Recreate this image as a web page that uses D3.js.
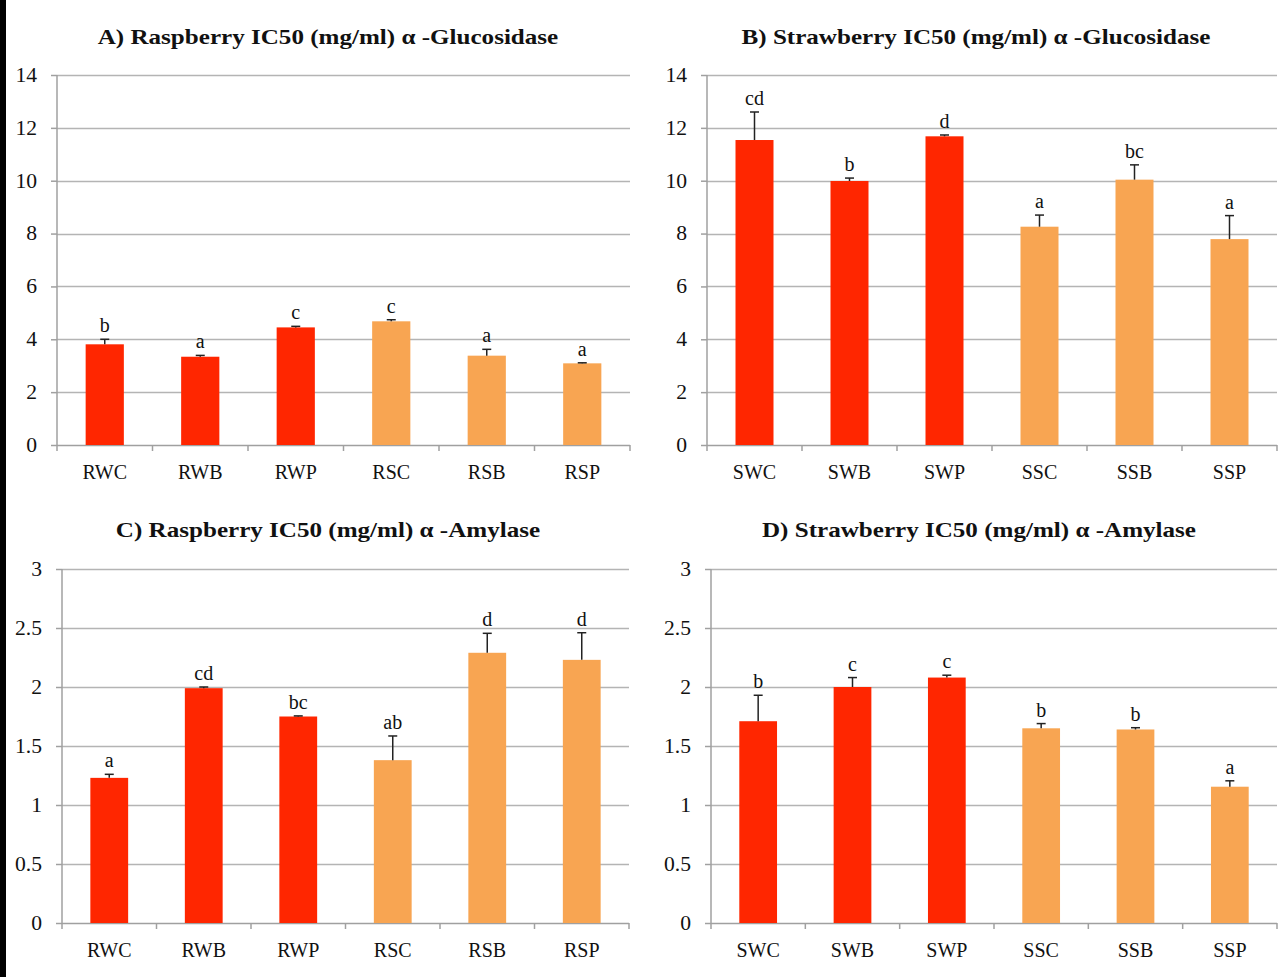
<!DOCTYPE html>
<html>
<head>
<meta charset="utf-8">
<script src="https://cdn.jsdelivr.net/npm/d3@7"></script>
<style>
  html, body { margin: 0; padding: 0; background: #fff; }
  svg { display: block; }
  svg text { font-family: "Liberation Serif", "Times New Roman", serif !important; fill: #111; }
</style>
</head>
<body>
<svg id="chart" width="1287" height="977"></svg>
<script>
// IC50 values (mg/ml), upper error bar ends and significance letters
const raspCategories = ["RWC", "RWB", "RWP", "RSC", "RSB", "RSP"];
const strawCategories = ["SWC", "SWB", "SWP", "SSC", "SSB", "SSP"];

const raspGlucValues = [3.81, 3.34, 4.45, 4.68, 3.38, 3.09];
const raspGlucErrTop = [4.00, 3.39, 4.49, 4.74, 3.62, 3.11];
const raspGlucLetters = ["b", "a", "c", "c", "a", "a"];

const strawGlucValues = [11.54, 9.99, 11.68, 8.26, 10.04, 7.79];
const strawGlucErrTop = [12.60, 10.10, 11.73, 8.70, 10.60, 8.68];
const strawGlucLetters = ["cd", "b", "d", "a", "bc", "a"];

const raspAmylValues = [1.23, 1.99, 1.75, 1.38, 2.29, 2.23];
const raspAmylErrTop = [1.26, 2.00, 1.755, 1.585, 2.455, 2.46];
const raspAmylLetters = ["a", "cd", "bc", "ab", "d", "d"];

const strawAmylValues = [1.71, 2.00, 2.08, 1.65, 1.64, 1.155];
const strawAmylErrTop = [1.93, 2.08, 2.10, 1.69, 1.655, 1.205];
const strawAmylLetters = ["b", "c", "c", "b", "b", "a"];

const glucTicks = [0, 2, 4, 6, 8, 10, 12, 14];
const amylTicks = [0, 0.5, 1, 1.5, 2, 2.5, 3];

const waterColor = "#ff2600";   // W* extracts
const solventColor = "#f8a552"; // S* extracts

const SERIF = '"Liberation Serif", "Times New Roman", serif';
const svg = d3.select("#chart");

// widen glyphs horizontally by a factor, keeping the anchor
function stretch(sel, k) {
  sel.each(function () {
    const len = this.getComputedTextLength();
    d3.select(this).attr("textLength", len * k).attr("lengthAdjust", "spacingAndGlyphs");
  });
}

// left edge strip
svg.append("rect").attr("x", 0).attr("y", 0).attr("width", 6).attr("height", 977).attr("fill", "#000");

const panels = [
  { title: "A) Raspberry IC50 (mg/ml) \u03b1 -Glucosidase", cats: raspCategories, vals: raspGlucValues,
    err: raspGlucErrTop, letters: raspGlucLetters, ticks: glucTicks, max: 14,
    x0: 57, x1: 630, y0: 75, y1: 445, titleX: 328, titleY: 44 },
  { title: "B) Strawberry IC50 (mg/ml) \u03b1 -Glucosidase", cats: strawCategories, vals: strawGlucValues,
    err: strawGlucErrTop, letters: strawGlucLetters, ticks: glucTicks, max: 14,
    x0: 707, x1: 1277, y0: 75, y1: 445, titleX: 976, titleY: 44 },
  { title: "C) Raspberry IC50 (mg/ml) \u03b1 -Amylase", cats: raspCategories, vals: raspAmylValues,
    err: raspAmylErrTop, letters: raspAmylLetters, ticks: amylTicks, max: 3,
    x0: 62, x1: 629, y0: 569, y1: 923, titleX: 328, titleY: 537 },
  { title: "D) Strawberry IC50 (mg/ml) \u03b1 -Amylase", cats: strawCategories, vals: strawAmylValues,
    err: strawAmylErrTop, letters: strawAmylLetters, ticks: amylTicks, max: 3,
    x0: 711, x1: 1277, y0: 569, y1: 923, titleX: 979, titleY: 537 }
];

panels.forEach(p => {
  const g = svg.append("g");
  const x = d3.scaleBand().domain(p.cats).range([p.x0, p.x1]).paddingInner(0.6).paddingOuter(0.3);
  const xb = d3.scaleBand().domain(p.cats).range([p.x0, p.x1]);
  const y = d3.scaleLinear().domain([0, p.max]).range([p.y1, p.y0]);

  // title
  const t = g.append("text").attr("x", p.titleX).attr("y", p.titleY)
    .attr("text-anchor", "middle").style("font-size", "22px").style("font-weight", "bold")
    .style("font-family", SERIF)
    .text(p.title);
  stretch(t, 1.14);

  // horizontal gridlines
  g.append("g").selectAll("line").data(p.ticks.filter(t => t > 0)).join("line")
    .attr("x1", p.x0).attr("x2", p.x1)
    .attr("y1", d => Math.round(y(d)) + 0.5).attr("y2", d => Math.round(y(d)) + 0.5)
    .attr("stroke", "#b4b4b4").attr("stroke-width", 1.5);

  // y axis
  const yAxis = d3.axisLeft(y).tickValues(p.ticks).tickSize(6).tickPadding(14)
    .tickFormat(d3.format("~g"));
  const ya = g.append("g").attr("transform", `translate(${p.x0},0)`).call(yAxis)
    .attr("font-family", null).attr("font-size", null);
  ya.select(".domain").attr("stroke", "#a0a0a0").attr("stroke-width", 1.5)
    .attr("d", `M0,${p.y0}V${p.y1}`);
  ya.selectAll(".tick line").attr("stroke", "#a0a0a0").attr("stroke-width", 1.5);
  ya.selectAll(".tick text").style("font-size", "20px").style("font-family", SERIF).attr("fill", "#111");
  stretch(ya.selectAll(".tick text"), 1.08);

  // x axis with ticks at category boundaries
  const xa = g.append("g").attr("transform", `translate(0,${p.y1})`);
  xa.append("line").attr("x1", p.x0).attr("x2", p.x1).attr("y1", 0.5).attr("y2", 0.5)
    .attr("stroke", "#a0a0a0").attr("stroke-width", 1.5);
  const bounds = p.cats.map(c => xb(c)).concat([p.x1]);
  xa.selectAll("line.tk").data(bounds).join("line").attr("class", "tk")
    .attr("x1", d => d).attr("x2", d => d).attr("y1", 0).attr("y2", 6)
    .attr("stroke", "#a0a0a0").attr("stroke-width", 1.5);
  const xAxis = d3.axisBottom(xb).tickSize(0).tickPadding(0);
  const xl = g.append("g").attr("transform", `translate(0,${p.y1})`).call(xAxis)
    .attr("font-family", null).attr("font-size", null);
  xl.select(".domain").remove();
  xl.selectAll(".tick text").style("font-size", "20px").style("font-family", SERIF).attr("fill", "#111")
    .attr("dy", null).attr("y", 34);

  const rows = p.cats.map((c, i) => ({ c, v: p.vals[i], e: p.err[i], l: p.letters[i], i }));

  // bars
  g.append("g").selectAll("rect").data(rows).join("rect")
    .attr("x", d => x(d.c)).attr("width", x.bandwidth())
    .attr("y", d => y(d.v)).attr("height", d => y(0) - y(d.v))
    .attr("fill", d => d.i < 3 ? waterColor : solventColor);

  // error bars (upper only)
  const eb = g.append("g").attr("stroke", "#222").attr("stroke-width", 1.5);
  eb.selectAll("line.v").data(rows).join("line").attr("class", "v")
    .attr("x1", d => xb(d.c) + xb.bandwidth() / 2).attr("x2", d => xb(d.c) + xb.bandwidth() / 2)
    .attr("y1", d => y(d.v)).attr("y2", d => y(d.e));
  eb.selectAll("line.h").data(rows).join("line").attr("class", "h")
    .attr("x1", d => xb(d.c) + xb.bandwidth() / 2 - 4.5).attr("x2", d => xb(d.c) + xb.bandwidth() / 2 + 4.5)
    .attr("y1", d => y(d.e)).attr("y2", d => y(d.e));

  // significance letters
  g.append("g").selectAll("text").data(rows).join("text")
    .attr("x", d => xb(d.c) + xb.bandwidth() / 2).attr("y", d => y(d.e) - 7)
    .attr("text-anchor", "middle").style("font-size", "20px").style("font-family", SERIF)
    .text(d => d.l);
});
</script>
</body>
</html>
